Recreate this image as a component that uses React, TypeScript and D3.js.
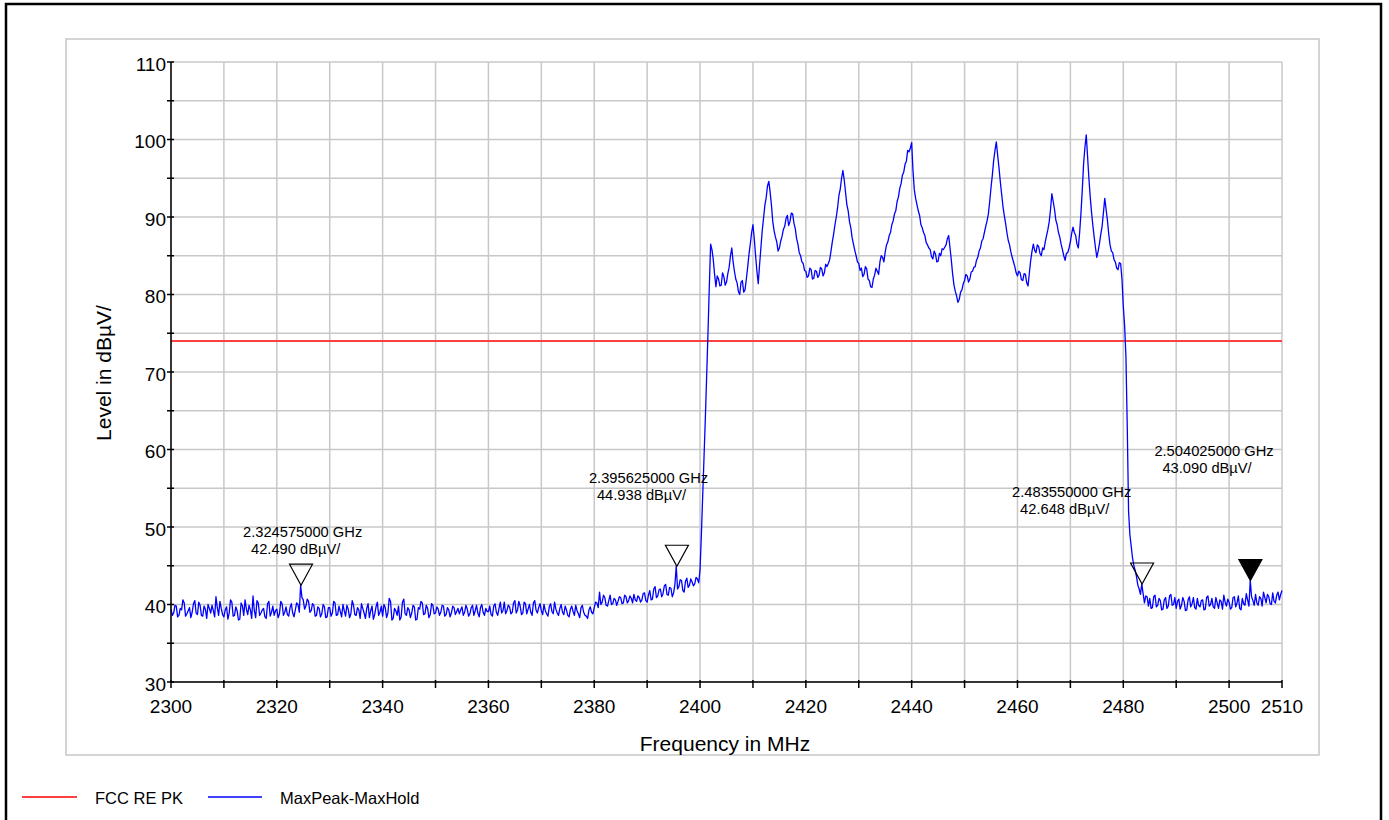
import React from 'react';
import * as d3 from 'd3';

// measured trace, 0.25 MHz per sample, one row = 5 MHz
const belowBandStart = 2300;
const belowBandLevels = [
  39.4, 38.6, 38.9, 39.9, 39.8, 38.4, 38.6, 39.5, 39.3, 40.6, 40.2, 38.5, 38.8, 39.2, 39.6, 38.3, 39.0, 40.1, 40.5, 38.9,
  38.7, 40.3, 39.9, 38.6, 38.5, 39.8, 39.4, 38.2, 40.0, 39.5, 38.9, 39.9, 39.2, 38.4, 41.0, 39.6, 38.6, 40.4, 39.5, 38.7,
  38.4, 39.3, 39.7, 38.1, 38.9, 40.6, 40.3, 38.5, 38.6, 39.7, 39.2, 38.0, 38.1, 40.2, 39.8, 38.6, 40.6, 39.4, 38.7, 39.9,
  39.3, 38.2, 41.1, 39.2, 38.3, 40.5, 40.2, 38.6, 38.9, 39.3, 39.5, 38.4, 38.2, 40.1, 40.4, 38.5, 39.0, 39.8, 38.6, 39.2,
  39.4, 38.3, 38.8, 40.4, 40.1, 38.6, 39.0, 39.7, 38.7, 38.5, 39.6, 40.1, 38.9, 38.4, 39.3, 40.2, 40.0, 39.0, 42.49, 40.9,
  40.6, 39.4, 39.8, 40.7, 40.4, 39.0, 39.2, 40.1, 39.9, 38.5, 38.6, 39.7, 39.5, 38.4, 38.8, 40.0, 39.7, 38.3, 38.4, 39.6,
  39.6, 38.5, 38.9, 40.4, 40.2, 38.6, 38.7, 39.8, 39.1, 38.4, 40.0, 39.2, 38.5, 39.9, 39.4, 38.3, 38.8, 40.5, 39.9, 38.7,
  38.6, 39.6, 39.3, 38.2, 40.1, 39.5, 38.9, 38.2, 39.5, 40.1, 38.3, 39.2, 39.8, 38.1, 38.7, 39.7, 40.3, 38.6, 39.0, 39.8,
  38.5, 40.0, 39.6, 38.3, 38.9, 40.8, 40.4, 38.0, 38.2, 39.5, 39.2, 38.6, 39.8, 38.0, 38.4, 40.3, 40.7, 38.8, 38.6, 39.6,
  39.3, 38.3, 38.9, 39.9, 39.7, 38.0, 38.1, 39.6, 39.4, 40.4, 40.2, 38.7, 38.8, 39.9, 39.5, 38.3, 38.7, 40.1, 39.9, 38.8,
  38.9, 39.7, 39.4, 38.6, 39.0, 39.9, 39.8, 38.5, 38.7, 39.6, 39.3, 38.4, 38.9, 39.8, 39.6, 38.7, 39.1, 39.5, 38.8, 39.3,
  39.7, 38.6, 39.0, 39.9, 39.4, 38.5, 38.8, 39.6, 39.9, 38.6, 39.2, 39.9, 38.9, 38.4, 39.6, 40.0, 39.0, 38.6, 39.5, 39.1,
  39.1, 39.8, 38.7, 38.5, 39.8, 40.1, 39.0, 38.6, 39.5, 40.3, 38.9, 39.2, 40.3, 38.8, 39.2, 39.9, 39.7, 38.8, 39.0, 40.2,
  40.5, 38.9, 39.3, 40.4, 39.8, 38.7, 38.9, 40.3, 40.1, 38.8, 39.4, 40.0, 39.0, 38.6, 40.2, 40.5, 39.3, 38.9, 39.6, 40.1,
  39.2, 38.7, 40.0, 39.2, 38.8, 38.5, 39.7, 40.1, 39.1, 38.8, 40.3, 39.4, 38.9, 38.6, 39.5, 40.0, 39.0, 38.7, 39.8, 39.3,
  38.6, 38.4, 39.4, 39.8, 39.1, 38.6, 39.9, 39.2, 38.8, 38.3, 39.6, 39.9, 39.0, 38.6, 38.5, 38.2, 39.3, 39.7, 39.0, 38.8,
  39.6, 40.3, 40.2, 39.6, 41.6, 40.0, 40.3, 41.2, 40.9, 39.9, 39.8, 40.5, 41.2, 40.0, 40.1, 40.8, 40.6, 39.9, 40.4, 41.0,
  40.9, 40.1, 40.2, 41.2, 41.0, 40.2, 40.5, 41.1, 40.8, 40.2, 41.3, 40.6, 40.4, 41.1, 40.9, 40.3, 40.6, 41.4, 41.5, 40.5,
  40.3, 41.2, 41.8, 40.6, 40.7, 42.0, 42.3, 40.9, 41.1, 41.9, 42.0, 41.0, 41.4, 42.4, 42.6, 41.3, 41.2, 42.2, 42.1, 41.0,
  41.5, 42.6, 44.94, 42.0, 42.3, 43.2, 43.1, 41.8, 41.6, 43.0, 43.4, 42.2, 42.5, 43.3, 42.9, 42.4, 42.7, 43.5, 43.3, 42.8,
];

const inBandStart = 2400;
const inBandLevels = [
  44.5, 49.0, 54.0, 59.0, 64.0, 69.5, 75.0, 81.0, 86.5, 85.8, 84.5, 82.6, 81.0, 82.4, 82.0, 81.1, 81.2, 82.8, 82.3, 81.2,
  81.6, 82.7, 83.5, 85.0, 86.0, 84.2, 83.0, 82.0, 81.5, 80.4, 80.0, 81.6, 81.8, 80.3, 80.6, 82.0, 83.5, 85.2, 86.5, 88.0,
  89.0, 87.2, 85.0, 83.0, 81.4, 83.8, 86.0, 88.2, 89.8, 91.5, 92.5, 94.0, 94.6, 93.2, 91.5, 89.4, 88.2, 87.4, 86.8, 85.6,
  86.0, 86.9, 87.5, 88.4, 88.8, 89.8, 90.2, 88.9, 89.4, 90.5, 90.4, 89.2, 88.5, 87.2, 86.5, 85.4, 85.0, 84.2, 84.0, 83.1,
  83.0, 82.2, 82.4, 83.4, 83.2, 82.0, 82.1, 83.1, 83.0, 82.2, 82.5, 83.5, 83.3, 82.4, 82.8, 83.9, 83.6, 84.0, 84.5, 85.6,
  86.8, 87.8, 89.0, 90.0, 91.2, 92.8, 93.6, 95.0, 96.0, 94.8, 93.2, 91.6, 90.8, 89.4, 88.6, 87.3, 86.5, 85.7, 85.0, 84.2,
  84.0, 83.1, 83.4, 82.3, 82.6, 83.6, 83.3, 82.0, 81.8, 81.0, 80.9, 82.0, 82.5, 83.4, 83.0, 82.6, 84.2, 85.0, 84.8, 84.2,
  85.5, 86.4, 86.8, 87.6, 88.0, 89.0, 89.5, 90.4, 90.8, 92.0, 92.6, 93.7, 94.3, 95.4, 95.8, 96.8, 97.2, 98.6, 98.4, 98.9,
  99.6, 96.0, 93.5, 92.4, 91.6, 90.8, 90.2, 89.0, 88.6, 88.0, 87.6, 86.7, 86.4, 86.0, 85.8, 84.9, 84.6, 85.6, 85.2, 84.2,
  84.3, 85.3, 85.0, 85.9, 85.8, 86.1, 86.4, 87.2, 87.6, 86.0, 84.4, 82.6, 81.2, 80.4, 79.8, 79.0, 79.4, 80.3, 80.6, 81.4,
  81.8, 82.6, 82.4, 81.6, 82.0, 82.9, 83.0, 83.5, 83.6, 84.4, 84.8, 85.6, 86.0, 86.9, 87.2, 88.0, 88.8, 89.5, 90.4, 92.0,
  93.8, 95.4, 97.3, 98.6, 99.7, 98.0, 96.4, 94.6, 93.0, 91.4, 90.2, 89.2, 88.0, 87.0, 86.4, 85.5, 84.8, 84.2, 83.6, 82.8,
  82.4, 83.0, 82.8, 81.9, 81.8, 82.7, 82.6, 81.5, 81.1, 82.8, 84.4, 85.6, 86.5, 85.7, 85.4, 86.4, 86.2, 85.3, 85.0, 86.0,
  85.8, 86.8, 87.6, 88.4, 89.4, 91.0, 93.0, 92.0, 91.0, 89.6, 89.0, 88.0, 87.4, 86.5, 85.8, 85.0, 84.4, 85.3, 85.4, 86.0,
  86.8, 87.9, 88.7, 88.0, 87.6, 86.5, 86.0, 88.0, 90.5, 93.5, 96.9, 99.0, 100.6, 97.8, 95.0, 92.6, 90.6, 88.9, 87.4, 86.0,
  84.8, 85.6, 86.6, 87.8, 88.8, 90.6, 92.4, 91.0, 89.6, 87.8, 86.4, 85.6, 85.4, 84.5, 84.2, 83.4, 83.2, 84.1, 84.0, 82.0,
  78.5, 76.0, 72.0, 63.0, 52.0, 49.0, 47.5, 46.0, 45.0, 44.4, 43.6, 42.5, 42.0, 41.3, 42.65, 41.4, 40.2, 41.1, 41.0, 39.8,
];

const aboveBandStart = 2485;
const aboveBandLevels = [
  40.8, 39.5, 39.6, 41.0, 41.2, 39.7, 39.9, 40.8, 40.5, 39.3, 39.4, 40.6, 40.9, 39.5, 39.8, 41.1, 41.3, 39.9, 40.0, 40.9,
  39.5, 40.4, 40.7, 39.4, 39.9, 40.9, 40.4, 39.2, 39.3, 40.6, 41.0, 39.7, 40.1, 40.9, 39.6, 39.4, 40.8, 39.9, 39.7, 40.5,
  40.6, 39.3, 39.4, 40.9, 41.1, 39.8, 40.0, 40.8, 39.7, 39.5, 40.9, 40.2, 39.5, 40.6, 40.4, 39.4, 41.2, 40.3, 39.8, 40.7,
  40.3, 39.4, 39.6, 40.9, 41.0, 39.7, 40.2, 41.1, 39.5, 39.3, 40.8, 40.1, 39.9, 41.4, 40.6, 39.8, 43.09, 41.0, 40.5, 39.9,
  41.3, 40.2, 39.9, 41.0, 40.8, 39.8, 41.6, 40.9, 40.2, 41.3, 41.0, 40.1, 40.0, 41.5, 40.4, 40.2, 41.2, 41.6, 40.6, 41.3, 41.8,
];
const sampleStep = 0.25;

const limitLevel = 74; // FCC RE PK

const markerFreqs = [2324.575, 2395.625, 2483.55, 2504.025];
const markerLevels = [42.49, 44.938, 42.648, 43.09];
const markerFilled = [false, false, false, true];
// label placement relative to the marker tip, px
const markerLabelOffsets = [[-58, -48], [-88, -83], [-130, -87], [-96, -125]];

const yTicks = d3.range(30, 111, 5);
const yLabels = [30, 40, 50, 60, 70, 80, 90, 100, 110];
const xTicks = d3.range(2300, 2511, 10);
const xLabels = [2300, 2320, 2340, 2360, 2380, 2400, 2420, 2440, 2460, 2480, 2500, 2510];

const FONT = '"Liberation Sans", Arial, sans-serif';

const toPoints = (start: number, levels: number[]) =>
  levels.map((v, i) => ({ f: start + i * sampleStep, v }));

const App = () => {
  const left = 171, right = 1282, top = 62, bottom = 682;
  const x = d3.scaleLinear().domain([2300, 2510]).range([left, right]);
  const y = d3.scaleLinear().domain([30, 110]).range([bottom, top]);

  const trace = [
    ...toPoints(belowBandStart, belowBandLevels),
    ...toPoints(inBandStart, inBandLevels),
    ...toPoints(aboveBandStart, aboveBandLevels),
  ];
  const line = d3.line<{ f: number; v: number }>().x(d => x(d.f)).y(d => y(d.v));

  const fmtFreq = (f: number) => (f / 1000).toFixed(9) + ' GHz';
  const fmtLevel = (v: number) => v.toFixed(3) + ' dBµV/';

  return (
    <svg width={1389} height={820} style={{ position: 'absolute', left: 0, top: 0, background: '#fff' }} fontFamily={FONT}>
      <rect x={6} y={4} width={1375} height={830} fill="none" stroke="#000" strokeWidth={2.5} />
      <rect x={66} y={39} width={1253} height={716} fill="none" stroke="#c6c6c6" strokeWidth={1.5} />

      {/* grid */}
      {yTicks.map(t => (
        <line key={'gy' + t} x1={left} x2={right} y1={y(t)} y2={y(t)} stroke="#c8c8c8" strokeWidth={1.5} />
      ))}
      {xTicks.map(t => (
        <line key={'gx' + t} x1={x(t)} x2={x(t)} y1={top} y2={bottom} stroke="#c8c8c8" strokeWidth={1.5} />
      ))}

      {/* limit */}
      <line x1={left} x2={right} y1={y(limitLevel)} y2={y(limitLevel)} stroke="#ff4040" strokeWidth={2} />

      {/* trace */}
      <path d={line(trace) || ''} fill="none" stroke="#0000ff" strokeWidth={1.3} strokeLinejoin="round" />

      {/* axes */}
      <line x1={left} x2={left} y1={top} y2={bottom} stroke="#000" strokeWidth={1.5} />
      <line x1={left} x2={right} y1={bottom} y2={bottom} stroke="#000" strokeWidth={1.5} />
      {yTicks.map(t => (
        <line key={'ty' + t} x1={left - 4} x2={left + 3} y1={y(t)} y2={y(t)} stroke="#000" strokeWidth={1.5} />
      ))}
      {xTicks.map(t => (
        <line key={'tx' + t} x1={x(t)} x2={x(t)} y1={bottom - 2} y2={bottom + 6} stroke="#000" strokeWidth={1.5} />
      ))}
      {yLabels.map(t => (
        <text key={'ly' + t} x={left - 5} y={y(t) + 8.5} textAnchor="end" fontSize={19} fill="#000">{t}</text>
      ))}
      {xLabels.map(t => (
        <text key={'lx' + t} x={x(t)} y={bottom + 31} textAnchor="middle" fontSize={19} fill="#000">{t}</text>
      ))}
      <text x={725} y={751} textAnchor="middle" fontSize={21} fill="#000">Frequency in MHz</text>
      <text transform={`translate(111,373) rotate(-90)`} textAnchor="middle" fontSize={21} fill="#000">Level in dBµV/</text>

      {/* markers */}
      {markerFreqs.map((f, i) => {
        const mx = x(f), my = y(markerLevels[i]);
        const [dx, dy] = markerLabelOffsets[i];
        return (
          <g key={'m' + i}>
            <path
              d={`M${mx - 11.5},${my - 21}L${mx + 11.5},${my - 21}L${mx},${my}Z`}
              fill={markerFilled[i] ? '#000' : 'none'}
              stroke="#000"
              strokeWidth={1.2}
            />
            <text x={mx + dx} y={my + dy} fontSize={14.7} fill="#000">{fmtFreq(f)}</text>
            <text x={mx + dx + 8} y={my + dy + 17} fontSize={14.7} fill="#000">{fmtLevel(markerLevels[i])}</text>
          </g>
        );
      })}

      {/* legend */}
      <line x1={22} x2={77} y1={797} y2={797} stroke="#ff4040" strokeWidth={2} />
      <text x={95} y={804} fontSize={16.5} fill="#000">FCC RE PK</text>
      <line x1={208} x2={262} y1={797} y2={797} stroke="#4040ff" strokeWidth={2} />
      <text x={280} y={804} fontSize={16.5} fill="#000">MaxPeak-MaxHold</text>
    </svg>
  );
};

export default App;
